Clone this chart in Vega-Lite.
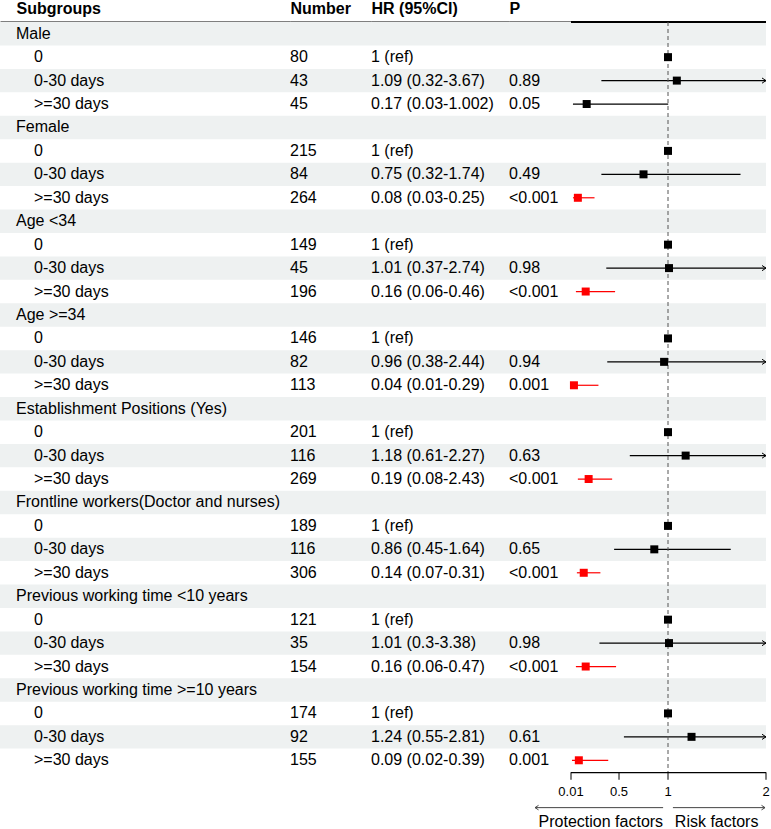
{
  "$schema": "https://vega.github.io/schema/vega-lite/v6.json",
  "padding": {"left": 0, "top": 0, "right": 2, "bottom": 0},
  "background": "white",
  "config": {
    "view": {"stroke": null},
    "font": "Liberation Sans",
    "text": {"font": "Liberation Sans", "fontSize": 16, "color": "black"},
    "axis": {"labelFont": "Liberation Sans", "labelColor": "black"}
  },
  "datasets": {
    "rows": [
      {"id": 1, "label": "Male", "type": "group", "n": null, "hrtxt": null, "ptxt": null, "hr": null, "lo": null, "hi": null, "pval": null},
      {"id": 2, "label": "0", "type": "sub", "n": "80", "hrtxt": "1 (ref)", "ptxt": "", "hr": 1, "lo": null, "hi": null, "pval": null},
      {"id": 3, "label": "0-30 days", "type": "sub", "n": "43", "hrtxt": "1.09 (0.32-3.67)", "ptxt": "0.89", "hr": 1.09, "lo": 0.32, "hi": 3.67, "pval": 0.89},
      {"id": 4, "label": ">=30 days", "type": "sub", "n": "45", "hrtxt": "0.17 (0.03-1.002)", "ptxt": "0.05", "hr": 0.17, "lo": 0.03, "hi": 1.002, "pval": 0.05},
      {"id": 5, "label": "Female", "type": "group", "n": null, "hrtxt": null, "ptxt": null, "hr": null, "lo": null, "hi": null, "pval": null},
      {"id": 6, "label": "0", "type": "sub", "n": "215", "hrtxt": "1 (ref)", "ptxt": "", "hr": 1, "lo": null, "hi": null, "pval": null},
      {"id": 7, "label": "0-30 days", "type": "sub", "n": "84", "hrtxt": "0.75 (0.32-1.74)", "ptxt": "0.49", "hr": 0.75, "lo": 0.32, "hi": 1.74, "pval": 0.49},
      {"id": 8, "label": ">=30 days", "type": "sub", "n": "264", "hrtxt": "0.08 (0.03-0.25)", "ptxt": "<0.001", "hr": 0.08, "lo": 0.03, "hi": 0.25, "pval": 0.001},
      {"id": 9, "label": "Age <34", "type": "group", "n": null, "hrtxt": null, "ptxt": null, "hr": null, "lo": null, "hi": null, "pval": null},
      {"id": 10, "label": "0", "type": "sub", "n": "149", "hrtxt": "1 (ref)", "ptxt": "", "hr": 1, "lo": null, "hi": null, "pval": null},
      {"id": 11, "label": "0-30 days", "type": "sub", "n": "45", "hrtxt": "1.01 (0.37-2.74)", "ptxt": "0.98", "hr": 1.01, "lo": 0.37, "hi": 2.74, "pval": 0.98},
      {"id": 12, "label": ">=30 days", "type": "sub", "n": "196", "hrtxt": "0.16 (0.06-0.46)", "ptxt": "<0.001", "hr": 0.16, "lo": 0.06, "hi": 0.46, "pval": 0.001},
      {"id": 13, "label": "Age >=34", "type": "group", "n": null, "hrtxt": null, "ptxt": null, "hr": null, "lo": null, "hi": null, "pval": null},
      {"id": 14, "label": "0", "type": "sub", "n": "146", "hrtxt": "1 (ref)", "ptxt": "", "hr": 1, "lo": null, "hi": null, "pval": null},
      {"id": 15, "label": "0-30 days", "type": "sub", "n": "82", "hrtxt": "0.96 (0.38-2.44)", "ptxt": "0.94", "hr": 0.96, "lo": 0.38, "hi": 2.44, "pval": 0.94},
      {"id": 16, "label": ">=30 days", "type": "sub", "n": "113", "hrtxt": "0.04 (0.01-0.29)", "ptxt": "0.001", "hr": 0.04, "lo": 0.01, "hi": 0.29, "pval": 0.001},
      {"id": 17, "label": "Establishment Positions (Yes)", "type": "group", "n": null, "hrtxt": null, "ptxt": null, "hr": null, "lo": null, "hi": null, "pval": null},
      {"id": 18, "label": "0", "type": "sub", "n": "201", "hrtxt": "1 (ref)", "ptxt": "", "hr": 1, "lo": null, "hi": null, "pval": null},
      {"id": 19, "label": "0-30 days", "type": "sub", "n": "116", "hrtxt": "1.18 (0.61-2.27)", "ptxt": "0.63", "hr": 1.18, "lo": 0.61, "hi": 2.27, "pval": 0.63},
      {"id": 20, "label": ">=30 days", "type": "sub", "n": "269", "hrtxt": "0.19 (0.08-2.43)", "ptxt": "<0.001", "hr": 0.19, "lo": 0.08, "hi": 0.43, "pval": 0.001},
      {"id": 21, "label": "Frontline workers(Doctor and nurses)", "type": "group", "n": null, "hrtxt": null, "ptxt": null, "hr": null, "lo": null, "hi": null, "pval": null},
      {"id": 22, "label": "0", "type": "sub", "n": "189", "hrtxt": "1 (ref)", "ptxt": "", "hr": 1, "lo": null, "hi": null, "pval": null},
      {"id": 23, "label": "0-30 days", "type": "sub", "n": "116", "hrtxt": "0.86 (0.45-1.64)", "ptxt": "0.65", "hr": 0.86, "lo": 0.45, "hi": 1.64, "pval": 0.65},
      {"id": 24, "label": ">=30 days", "type": "sub", "n": "306", "hrtxt": "0.14 (0.07-0.31)", "ptxt": "<0.001", "hr": 0.14, "lo": 0.07, "hi": 0.31, "pval": 0.001},
      {"id": 25, "label": "Previous working time <10 years", "type": "group", "n": null, "hrtxt": null, "ptxt": null, "hr": null, "lo": null, "hi": null, "pval": null},
      {"id": 26, "label": "0", "type": "sub", "n": "121", "hrtxt": "1 (ref)", "ptxt": "", "hr": 1, "lo": null, "hi": null, "pval": null},
      {"id": 27, "label": "0-30 days", "type": "sub", "n": "35", "hrtxt": "1.01 (0.3-3.38)", "ptxt": "0.98", "hr": 1.01, "lo": 0.3, "hi": 3.38, "pval": 0.98},
      {"id": 28, "label": ">=30 days", "type": "sub", "n": "154", "hrtxt": "0.16 (0.06-0.47)", "ptxt": "<0.001", "hr": 0.16, "lo": 0.06, "hi": 0.47, "pval": 0.001},
      {"id": 29, "label": "Previous working time >=10 years", "type": "group", "n": null, "hrtxt": null, "ptxt": null, "hr": null, "lo": null, "hi": null, "pval": null},
      {"id": 30, "label": "0", "type": "sub", "n": "174", "hrtxt": "1 (ref)", "ptxt": "", "hr": 1, "lo": null, "hi": null, "pval": null},
      {"id": 31, "label": "0-30 days", "type": "sub", "n": "92", "hrtxt": "1.24 (0.55-2.81)", "ptxt": "0.61", "hr": 1.24, "lo": 0.55, "hi": 2.81, "pval": 0.61},
      {"id": 32, "label": ">=30 days", "type": "sub", "n": "155", "hrtxt": "0.09 (0.02-0.39)", "ptxt": "0.001", "hr": 0.09, "lo": 0.02, "hi": 0.39, "pval": 0.001}
    ],
    "notes": [
      {"note": "Protection factors"},
      {"note": "Risk factors"}
    ],
    "ticks": [
      {"v": 0.01, "lab": "0.01"},
      {"v": 0.5, "lab": "0.5"},
      {"v": 1, "lab": "1"},
      {"v": 2, "lab": "2"}
    ]
  },
  "columns": 5,
  "spacing": {"row": 0, "column": 0},
  "bounds": "flush",
  "concat": [
    {
      "width": 290, "height": 750,
      "data": {"name": "rows"},
      "layer": [
        {"transform": [{"filter": "datum.id % 2 == 1"}], "mark": {"type": "rect", "color": "#eef1f1"},
         "encoding": {"y": {"field": "id", "type": "ordinal", "axis": null, "scale": {"paddingInner": 0, "paddingOuter": 0}}}},
        {"transform": [{"filter": "datum.type == 'group'"}],
         "mark": {"type": "text", "align": "left", "baseline": "middle", "dx": 16},
         "encoding": {
           "y": {"field": "id", "type": "ordinal", "axis": null},
           "x": {"datum": "Subgroups", "type": "nominal", "scale": {"type": "point", "padding": 0, "align": 0},
                 "axis": {"orient": "top", "title": null, "ticks": false, "domain": true, "domainColor": "black", "domainWidth": 2, "labelFontWeight": "bold", "labelFontSize": 16, "labelAlign": "left", "labelBaseline": "alphabetic", "labelPadding": 9, "labelAngle": 0, "labelOffset": 16, "grid": false}},
           "text": {"field": "label"}}},
        {"transform": [{"filter": "datum.type == 'sub'"}],
         "mark": {"type": "text", "align": "left", "baseline": "middle", "dx": 34},
         "encoding": {
           "y": {"field": "id", "type": "ordinal", "axis": null},
           "x": {"datum": "Subgroups", "type": "nominal", "scale": {"type": "point", "padding": 0, "align": 0},
                 "axis": {"orient": "top", "title": null, "ticks": false, "domain": true, "domainColor": "black", "domainWidth": 2, "labelFontWeight": "bold", "labelFontSize": 16, "labelAlign": "left", "labelBaseline": "alphabetic", "labelPadding": 9, "labelAngle": 0, "labelOffset": 16, "grid": false}},
           "text": {"field": "label"}}}
      ]
    },
    {
      "width": 81, "height": 750,
      "data": {"name": "rows"},
      "layer": [
        {"transform": [{"filter": "datum.id % 2 == 1"}], "mark": {"type": "rect", "color": "#eef1f1"},
         "encoding": {"y": {"field": "id", "type": "ordinal", "axis": null, "scale": {"paddingInner": 0, "paddingOuter": 0}}}},
        {"transform": [{"filter": "datum.type == 'sub'"}],
         "mark": {"type": "text", "align": "left", "baseline": "middle"},
         "encoding": {
           "y": {"field": "id", "type": "ordinal", "axis": null},
           "x": {"datum": "Number", "type": "nominal", "scale": {"type": "point", "padding": 0, "align": 0},
                 "axis": {"orient": "top", "title": null, "ticks": false, "domain": true, "domainColor": "black", "domainWidth": 2, "labelFontWeight": "bold", "labelFontSize": 16, "labelAlign": "left", "labelBaseline": "alphabetic", "labelPadding": 9, "labelAngle": 0, "grid": false}},
           "text": {"field": "n"}}}
      ]
    },
    {
      "width": 138, "height": 750,
      "data": {"name": "rows"},
      "layer": [
        {"transform": [{"filter": "datum.id % 2 == 1"}], "mark": {"type": "rect", "color": "#eef1f1"},
         "encoding": {"y": {"field": "id", "type": "ordinal", "axis": null, "scale": {"paddingInner": 0, "paddingOuter": 0}}}},
        {"transform": [{"filter": "datum.type == 'sub'"}],
         "mark": {"type": "text", "align": "left", "baseline": "middle"},
         "encoding": {
           "y": {"field": "id", "type": "ordinal", "axis": null},
           "x": {"datum": "HR (95%CI)", "type": "nominal", "scale": {"type": "point", "padding": 0, "align": 0},
                 "axis": {"orient": "top", "title": null, "ticks": false, "domain": true, "domainColor": "black", "domainWidth": 2, "labelFontWeight": "bold", "labelFontSize": 16, "labelAlign": "left", "labelBaseline": "alphabetic", "labelPadding": 9, "labelAngle": 0, "grid": false}},
           "text": {"field": "hrtxt"}}}
      ]
    },
    {
      "width": 62, "height": 750,
      "data": {"name": "rows"},
      "layer": [
        {"transform": [{"filter": "datum.id % 2 == 1"}], "mark": {"type": "rect", "color": "#eef1f1"},
         "encoding": {"y": {"field": "id", "type": "ordinal", "axis": null, "scale": {"paddingInner": 0, "paddingOuter": 0}}}},
        {"transform": [{"filter": "datum.type == 'sub'"}],
         "mark": {"type": "text", "align": "left", "baseline": "middle"},
         "encoding": {
           "y": {"field": "id", "type": "ordinal", "axis": null},
           "x": {"datum": "P", "type": "nominal", "scale": {"type": "point", "padding": 0, "align": 0},
                 "axis": {"orient": "top", "title": null, "ticks": false, "domain": true, "domainColor": "black", "domainWidth": 2, "labelFontWeight": "bold", "labelFontSize": 16, "labelAlign": "left", "labelBaseline": "alphabetic", "labelPadding": 9, "labelAngle": 0, "grid": false}},
           "text": {"field": "ptxt"}}}
      ]
    },
    {
      "width": 195, "height": 750,
      "data": {"name": "rows"},
      "layer": [
        {"transform": [{"filter": "datum.id % 2 == 1"}], "mark": {"type": "rect", "color": "#eef1f1"},
         "encoding": {"y": {"field": "id", "type": "ordinal", "axis": null, "scale": {"paddingInner": 0, "paddingOuter": 0}}}},
        {"transform": [{"filter": "datum.id == 1"}],
         "mark": {"type": "rule", "color": "black", "strokeWidth": 2},
         "encoding": {"y": {"field": "id", "type": "ordinal", "axis": null, "bandPosition": 0}}},
        {"transform": [{"filter": "isValid(datum.lo)"}],
         "mark": {"type": "rule", "strokeWidth": 1.2},
         "encoding": {
           "y": {"field": "id", "type": "ordinal", "axis": null},
           "x": {"field": "lo", "type": "quantitative", "scale": {"domain": [0.01, 2], "nice": false, "zero": false, "clamp": true}, "axis": null},
           "x2": {"field": "hi"},
           "color": {"condition": {"test": "isValid(datum.pval) && datum.pval < 0.05", "value": "#ff0000"}, "value": "#000000"}}},
        {"transform": [{"filter": "datum.id == 1"}],
         "mark": {"type": "rule", "strokeDash": [4, 3], "color": "#555555", "strokeWidth": 1},
         "encoding": {"x": {"datum": 1, "type": "quantitative", "axis": null}}},
        {"transform": [{"filter": "datum.hi > 2"}],
         "mark": {"type": "point", "shape": "M-1,-0.65L0,0L-1,0.65", "size": 64, "filled": false, "stroke": "black", "strokeWidth": 1, "opacity": 1},
         "encoding": {
           "y": {"field": "id", "type": "ordinal", "axis": null},
           "x": {"datum": 2, "type": "quantitative", "axis": null}}},
        {"transform": [{"filter": "isValid(datum.hr)"}],
         "mark": {"type": "point", "shape": "square", "size": 64, "filled": true, "opacity": 1, "strokeWidth": 0},
         "encoding": {
           "y": {"field": "id", "type": "ordinal", "axis": null},
           "x": {"field": "hr", "type": "quantitative", "axis": null},
           "color": {"condition": {"test": "isValid(datum.pval) && datum.pval < 0.05", "value": "#ff0000"}, "value": "#000000"}}}
      ]
    },
    {"width": 290, "height": 57, "data": {"values": []}, "mark": "text", "encoding": {}},
    {"width": 81, "height": 57, "data": {"values": []}, "mark": "text", "encoding": {}},
    {"width": 138, "height": 57, "data": {"values": []}, "mark": "text", "encoding": {}},
    {"width": 62, "height": 57, "data": {"values": []}, "mark": "text", "encoding": {}},
    {
      "width": 195, "height": 57,
      "layer": [
        {"data": {"name": "ticks"},
         "transform": [{"filter": "datum.v == 0.01"}],
         "mark": {"type": "rule", "color": "#000000", "strokeWidth": 1.3, "yOffset": -6.6},
         "encoding": {
           "x": {"datum": 0.01, "type": "quantitative", "scale": {"domain": [0.01, 2], "nice": false, "zero": false}, "axis": null},
           "x2": {"datum": 2},
           "y": {"datum": "tick", "type": "nominal", "scale": {"domain": ["tick", "num", "arrow", "note"], "paddingInner": 0, "paddingOuter": 0}, "axis": null}}},
        {"data": {"name": "ticks"},
         "mark": {"type": "tick", "orient": "vertical", "color": "#000000", "size": 7.5, "thickness": 1, "yOffset": -3.2, "opacity": 1},
         "encoding": {
           "x": {"field": "v", "type": "quantitative", "axis": null},
           "y": {"datum": "tick", "type": "nominal", "axis": null}}},
        {"data": {"name": "ticks"},
         "mark": {"type": "text", "align": "center", "baseline": "middle", "fontSize": 13, "dy": -1},
         "encoding": {
           "x": {"field": "v", "type": "quantitative", "axis": null},
           "y": {"datum": "num", "type": "nominal", "axis": null},
           "text": {"field": "lab"}}},
        {"data": {"name": "notes"},
         "transform": [{"filter": "datum.note == 'Protection factors'"}],
         "mark": {"type": "rule", "color": "#444444", "strokeWidth": 1},
         "encoding": {
           "x": {"datum": 0.95, "type": "quantitative", "axis": null},
           "x2": {"datum": -0.357},
           "y": {"datum": "arrow", "type": "nominal", "axis": null}}},
        {"data": {"name": "notes"},
         "transform": [{"filter": "datum.note == 'Risk factors'"}],
         "mark": {"type": "rule", "color": "#444444", "strokeWidth": 1},
         "encoding": {
           "x": {"datum": 1.05, "type": "quantitative", "axis": null},
           "x2": {"datum": 1.99},
           "y": {"datum": "arrow", "type": "nominal", "axis": null}}},
        {"data": {"name": "notes"},
         "transform": [{"filter": "datum.note == 'Protection factors'"}],
         "mark": {"type": "point", "shape": "M1,-0.65L0,0L1,0.65", "size": 49, "filled": false, "stroke": "#444444", "strokeWidth": 1, "opacity": 1},
         "encoding": {
           "x": {"datum": -0.357, "type": "quantitative", "axis": null},
           "y": {"datum": "arrow", "type": "nominal", "axis": null}}},
        {"data": {"name": "notes"},
         "transform": [{"filter": "datum.note == 'Risk factors'"}],
         "mark": {"type": "point", "shape": "M-1,-0.65L0,0L-1,0.65", "size": 49, "filled": false, "stroke": "#444444", "strokeWidth": 1, "opacity": 1},
         "encoding": {
           "x": {"datum": 1.99, "type": "quantitative", "axis": null},
           "y": {"datum": "arrow", "type": "nominal", "axis": null}}},
        {"data": {"name": "notes"},
         "transform": [{"filter": "datum.note == 'Protection factors'"}],
         "mark": {"type": "text", "align": "right", "baseline": "middle"},
         "encoding": {
           "x": {"datum": 0.95, "type": "quantitative", "axis": null},
           "y": {"datum": "note", "type": "nominal", "axis": null},
           "text": {"field": "note"}}},
        {"data": {"name": "notes"},
         "transform": [{"filter": "datum.note == 'Risk factors'"}],
         "mark": {"type": "text", "align": "left", "baseline": "middle"},
         "encoding": {
           "x": {"datum": 1.07, "type": "quantitative", "axis": null},
           "y": {"datum": "note", "type": "nominal", "axis": null},
           "text": {"field": "note"}}}
      ]
    }
  ]
}
